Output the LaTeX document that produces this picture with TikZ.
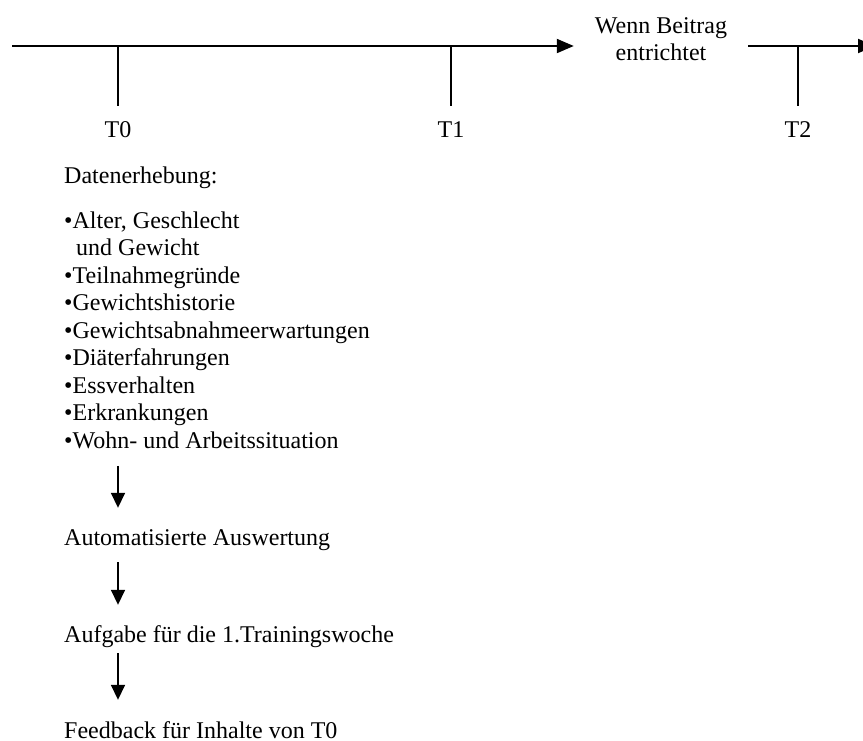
\documentclass[tikz,border=0pt]{standalone}
\usepackage{fontspec}
\setmainfont{Liberation Serif}
\usepackage{tikz}
\usetikzlibrary{arrows.meta,positioning,calc}

\begin{document}
\begin{tikzpicture}[x=1pt,y=-1pt,
      every node/.style={font=\fontsize{24}{27.5}\selectfont,inner sep=0pt},
      txt/.style={anchor=west,text height=17pt,text depth=6pt},
      tlab/.style={minimum height=48pt},
      axis/.style={line width=2pt,-{Triangle[length=17pt,width=14pt]}},
      tick/.style={line width=1.8pt},
      arr/.style={line width=1.6pt,-{Triangle[length=15pt,width=14pt]}}
    ]
      \useasboundingbox (0,0) rectangle (863,740);
      % Zeitachse
      \coordinate (start) at (12,46);
      \coordinate (t0) at (118,46);
      \coordinate (t1) at (451,46);
      \coordinate (t2) at (798,46);
      \coordinate (ende) at (875,46);
      \node[align=center,inner xsep=21pt,font=\fontsize{24}{27}\selectfont] (beitrag) at (661,39)
        {Wenn Beitrag\\entrichtet};
      \draw[axis] (start) -- (start -| beitrag.west);
      \draw[axis] (start -| beitrag.east) -- (ende);
      \foreach \t/\n in {t0/T0,t1/T1,t2/T2} {
        \node[tlab] (l\t) at ($(\t)+(0,84)$) {\n};
        \draw[tick] (\t) -- (l\t.north);
      }
      % Ablauf bei T0
      \node[txt] (daten) at (64,178) {Datenerhebung:};
      \node[anchor=north west,align=left] (liste) at (64,211.5)
        {\textbullet Alter, Geschlecht\\
         \hspace*{12pt}und Gewicht\\
         \textbullet Teilnahmegründe\\
         \textbullet Gewichtshistorie\\
         \textbullet Gewichtsabnahmeerwartungen\\
         \textbullet Diäterfahrungen\\
         \textbullet Essverhalten\\
         \textbullet Erkrankungen\\
         \textbullet Wohn- und Arbeitssituation};
      \node[txt] (auswertung) at (64,540) {Automatisierte Auswertung};
      \node[txt] (aufgabe) at (64,637) {Aufgabe für die 1.Trainingswoche};
      \node[txt,text depth=2pt] (feedback) at (64,731) {Feedback für Inhalte von T0};
      \foreach \a/\b/\s/\e in {liste/auswertung/17/20.5,
                               auswertung/aufgabe/10.5/20.5,
                               aufgabe/feedback/4.5/21.5}
        \draw[arr,shorten <=\s pt,shorten >=\e pt] (\a.south -| t0) -- (\b.north -| t0);
    \end{tikzpicture}
\end{document}
